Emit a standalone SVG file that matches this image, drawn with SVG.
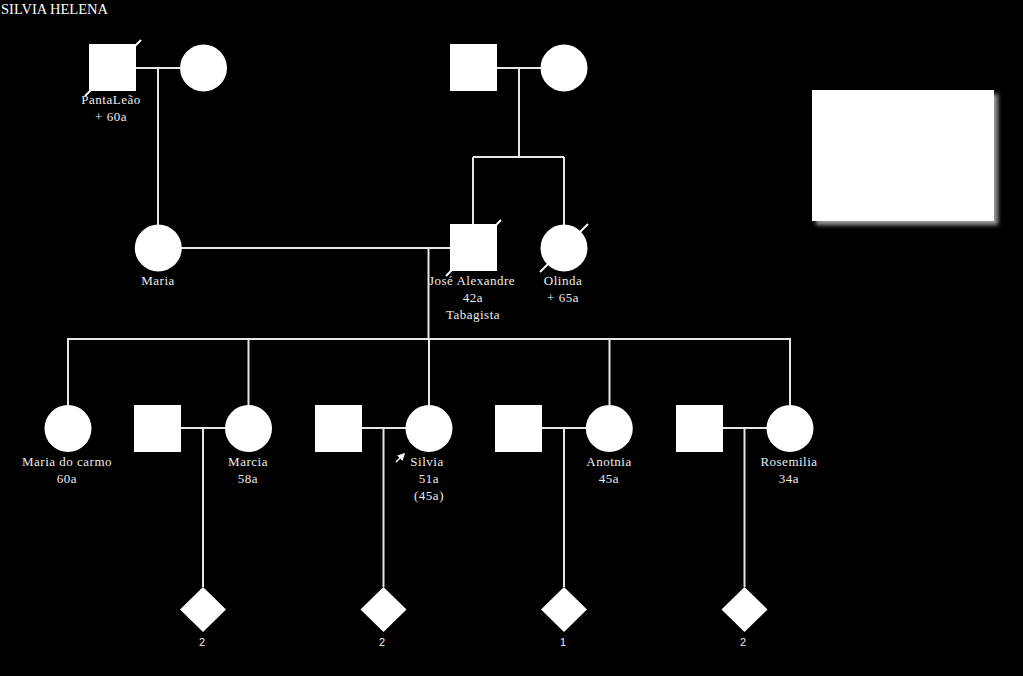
<svg xmlns="http://www.w3.org/2000/svg" width="1023" height="676" viewBox="0 0 1023 676">
<defs>
<style>
.ln{stroke:#e6e6e6;stroke-width:2;fill:none}
.nd{fill:#ffffff}
.dec{stroke:#ffffff;stroke-width:2}
.lb{font-family:"Liberation Serif","Times New Roman",serif;font-size:13px;letter-spacing:0.5px;fill:#ececec;text-anchor:middle}
.num{font-family:"Liberation Sans",Arial,sans-serif;font-size:11px;fill:#ececec;text-anchor:middle}
</style>
<filter id="sh" x="-10%" y="-10%" width="130%" height="130%">
<feGaussianBlur stdDeviation="2"/>
</filter>
<marker id="arr" viewBox="0 0 10 10" refX="8" refY="5" markerWidth="5" markerHeight="5" orient="auto">
<path d="M0,0 L10,5 L0,10 z" fill="#ffffff"/>
</marker>
</defs>
<rect x="0" y="0" width="1023" height="676" fill="#000000"/>
<text x="1" y="13.5" font-family="Liberation Serif,'Times New Roman',serif" font-size="14.5" fill="#ffffff">SILVIA HELENA</text>

<g id="connectors">
<line class="ln" x1="136" y1="68" x2="180" y2="68"/>
<line class="ln" x1="158" y1="68" x2="158" y2="225"/>
<line class="ln" x1="497" y1="68" x2="541" y2="68"/>
<line class="ln" x1="519" y1="68" x2="519" y2="157"/>
<line class="ln" x1="473" y1="157" x2="564" y2="157"/>
<line class="ln" x1="473" y1="157" x2="473" y2="224"/>
<line class="ln" x1="564" y1="157" x2="564" y2="225"/>
<line class="ln" x1="181" y1="248" x2="450" y2="248"/>
<line class="ln" x1="428.5" y1="248" x2="428.5" y2="339"/>
<line class="ln" x1="67" y1="339" x2="791" y2="339"/>
<line class="ln" x1="68" y1="339" x2="68" y2="405"/>
<line class="ln" x1="248.5" y1="339" x2="248.5" y2="405"/>
<line class="ln" x1="429" y1="339" x2="429" y2="405"/>
<line class="ln" x1="609.5" y1="339" x2="609.5" y2="405"/>
<line class="ln" x1="790" y1="339" x2="790" y2="405"/>
<line class="ln" x1="181" y1="428" x2="225" y2="428"/>
<line class="ln" x1="203" y1="428" x2="203" y2="587"/>
<line class="ln" x1="361" y1="428" x2="406" y2="428"/>
<line class="ln" x1="383.5" y1="428" x2="383.5" y2="587"/>
<line class="ln" x1="542" y1="428" x2="586" y2="428"/>
<line class="ln" x1="564" y1="428" x2="564" y2="587"/>
<line class="ln" x1="722" y1="428" x2="767" y2="428"/>
<line class="ln" x1="744.5" y1="428" x2="744.5" y2="587"/>
</g>

<g id="pantaleao">
<rect class="nd" x="89" y="44" width="47" height="47"/>
<line class="dec" x1="85" y1="96" x2="141" y2="40"/>
<text class="lb" x="111" y="104">PantaLeão</text>
<text class="lb" x="111" y="121">+ 60a</text>
</g>
<g id="esposa-pantaleao">
<circle class="nd" cx="203.5" cy="68" r="23.5"/>
</g>
<g id="avo-paterno">
<rect class="nd" x="450" y="44" width="47" height="47"/>
</g>
<g id="avo-paterna">
<circle class="nd" cx="564" cy="68" r="23.5"/>
</g>
<g id="maria">
<circle class="nd" cx="158.3" cy="248" r="23.5"/>
<text class="lb" x="158" y="285">Maria</text>
</g>
<g id="jose-alexandre">
<rect class="nd" x="450" y="224" width="47" height="47"/>
<line class="dec" x1="446" y1="276" x2="501" y2="220"/>
<text class="lb" x="472" y="285">José Alexandre</text>
<text class="lb" x="473" y="302">42a</text>
<text class="lb" x="473" y="319">Tabagista</text>
</g>
<g id="olinda">
<circle class="nd" cx="564" cy="248" r="23.5"/>
<line class="dec" x1="540" y1="272" x2="588" y2="224"/>
<text class="lb" x="563" y="285">Olinda</text>
<text class="lb" x="563" y="302">+ 65a</text>
</g>
<g id="maria-do-carmo">
<circle class="nd" cx="68" cy="428.5" r="23.5"/>
<text class="lb" x="67" y="466">Maria do carmo</text>
<text class="lb" x="67" y="483">60a</text>
</g>
<g id="conjuge-marcia">
<rect class="nd" x="134" y="405" width="47" height="47"/>
</g>
<g id="marcia">
<circle class="nd" cx="248.5" cy="428.5" r="23.5"/>
<text class="lb" x="248" y="466">Marcia</text>
<text class="lb" x="248" y="483">58a</text>
</g>
<g id="conjuge-silvia">
<rect class="nd" x="315" y="405" width="47" height="47"/>
</g>
<g id="silvia">
<circle class="nd" cx="429" cy="428.5" r="23.5"/>
<line x1="396" y1="462" x2="404" y2="454" stroke="#ffffff" stroke-width="1.5" marker-end="url(#arr)"/>
<text class="lb" x="427" y="466">Silvia</text>
<text class="lb" x="429" y="483">51a</text>
<text class="lb" x="429" y="500">(45a)</text>
</g>
<g id="conjuge-anotnia">
<rect class="nd" x="495" y="405" width="47" height="47"/>
</g>
<g id="anotnia">
<circle class="nd" cx="609.3" cy="428.5" r="23.5"/>
<text class="lb" x="609" y="466">Anotnia</text>
<text class="lb" x="609" y="483">45a</text>
</g>
<g id="conjuge-rosemilia">
<rect class="nd" x="676" y="405" width="47" height="47"/>
</g>
<g id="rosemilia">
<circle class="nd" cx="790" cy="428.5" r="23.5"/>
<text class="lb" x="789" y="466">Rosemilia</text>
<text class="lb" x="789" y="483">34a</text>
</g>
<g id="filhos-marcia">
<polygon class="nd" points="203,587 226,609.5 203,632 180,609.5"/>
<text class="num" x="202" y="646">2</text>
</g>
<g id="filhos-silvia">
<polygon class="nd" points="383.5,587 406.5,609.5 383.5,632 360.5,609.5"/>
<text class="num" x="382" y="646">2</text>
</g>
<g id="filhos-anotnia">
<polygon class="nd" points="564,587 587,609.5 564,632 541,609.5"/>
<text class="num" x="563" y="646">1</text>
</g>
<g id="filhos-rosemilia">
<polygon class="nd" points="744.5,587 767.5,609.5 744.5,632 721.5,609.5"/>
<text class="num" x="743" y="646">2</text>
</g>
<g id="legenda">
<rect x="816" y="94" width="182" height="131" fill="#9a9a9a" filter="url(#sh)"/>
<rect x="812" y="90" width="182" height="131" fill="#ffffff"/>
</g>
</svg>
